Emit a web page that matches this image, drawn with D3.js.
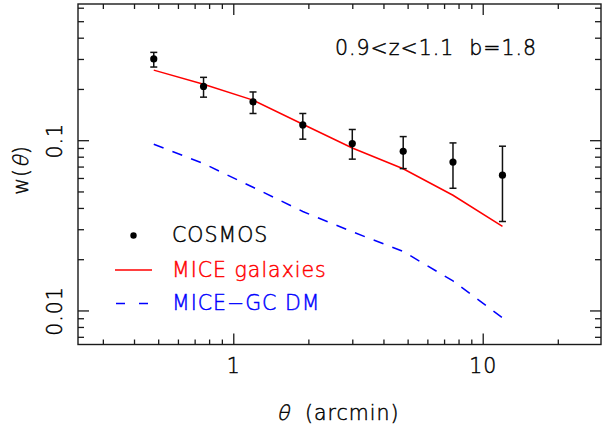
<!DOCTYPE html>
<html>
<head>
<meta charset="utf-8">
<script src="https://cdn.jsdelivr.net/npm/d3@7"></script>
<style>
  html, body { margin: 0; padding: 0; background: #fff; }
  svg { display: block; }
  text {
    font-family: "DejaVu Sans", "Liberation Sans", sans-serif;
    font-weight: 200; letter-spacing: 1px; white-space: pre;
    stroke: currentColor; stroke-width: 0.45px;
  }
</style>
</head>
<body>
<svg id="chart" width="602" height="428"></svg>
<script>
// Angular correlation w(theta), 0.9<z<1.1
const theta = [0.48, 0.76, 1.2, 1.9, 3.0, 4.8, 7.6, 12.0];

// COSMOS measurements with 1-sigma bounds
const cosmosW    = [0.300, 0.207, 0.168, 0.123, 0.0956, 0.0860, 0.0744, 0.0623];
const cosmosLow  = [0.269, 0.179, 0.1435, 0.1014, 0.0774, 0.0681, 0.0522, 0.0333];
const cosmosHigh = [0.328, 0.234, 0.192, 0.1435, 0.1156, 0.105, 0.0964, 0.0922];

// MICE galaxy mock (bias b = 1.8)
const miceGal = [0.258, 0.213, 0.172, 0.124, 0.090, 0.068, 0.0475, 0.0312];

// MICE-GC dark matter
const miceDM = [0.0947, 0.0729, 0.0529, 0.0381, 0.0290, 0.0222, 0.0149, 0.00906];

// Axis ticks
const xMajor = [1, 10];
const xMinor = [0.3, 0.4, 0.5, 0.6, 0.7, 0.8, 0.9, 2, 3, 4, 5, 6, 7, 8, 9, 20];
const yMajor = [0.01, 0.1];
const yMinor = [0.007, 0.008, 0.009, 0.02, 0.03, 0.04, 0.05, 0.06, 0.07, 0.08, 0.09, 0.2, 0.3, 0.4, 0.5, 0.6];

const legendItems = [
  { label: "COSMOS", color: "#000", kind: "dot" },
  { label: "MICE galaxies", color: "#ff0000", kind: "solid" },
  { label: "MICE\u2212GC DM", color: "#0000ff", kind: "dash" }
];

const svg = d3.select("#chart");
const L = 78, R = 601, T = 4, B = 344.5;

const x = d3.scaleLog().domain([0.2385, 29.8]).range([L, R]);
const y = d3.scaleLog().domain([Math.pow(10, -2.2), Math.pow(10, -0.2)]).range([B, T]);

const axisColor = "#1a1a1a";
const fontSize = 20.5;

// Axes: major and minor ticks pointing inwards on all four sides
function styleAxis(g) {
  g.select(".domain").remove();
  g.selectAll(".tick line").attr("stroke", axisColor).attr("stroke-width", 1.3);
  g.selectAll(".tick text").attr("fill", "#000").style("color", "#000")
    .style("font-size", fontSize + "px")
    .style("font-family", "DejaVu Sans, sans-serif")
    .style("font-weight", 200);
}

svg.append("g").attr("transform", `translate(0,${B})`)
  .call(d3.axisBottom(x).tickValues(xMinor).tickSize(-5).tickSizeOuter(0).tickFormat(""))
  .call(styleAxis);
svg.append("g").attr("transform", `translate(0,${B})`)
  .call(d3.axisBottom(x).tickValues(xMajor).tickSize(-11).tickSizeOuter(0).tickPadding(14).tickFormat(d3.format("~g")))
  .call(styleAxis);
svg.append("g").attr("transform", `translate(0,${T})`)
  .call(d3.axisTop(x).tickValues(xMinor).tickSize(-5).tickSizeOuter(0).tickFormat(""))
  .call(styleAxis);
svg.append("g").attr("transform", `translate(0,${T})`)
  .call(d3.axisTop(x).tickValues(xMajor).tickSize(-11).tickSizeOuter(0).tickFormat(""))
  .call(styleAxis);

svg.append("g").attr("transform", `translate(${L},0)`)
  .call(d3.axisLeft(y).tickValues(yMinor).tickSize(-6).tickSizeOuter(0).tickFormat(""))
  .call(styleAxis);
const yAxisMajor = svg.append("g").attr("transform", `translate(${L},0)`)
  .call(d3.axisLeft(y).tickValues(yMajor).tickSize(-11).tickSizeOuter(0).tickFormat(d3.format("~g")))
  .call(styleAxis);
yAxisMajor.selectAll(".tick text")
  .attr("transform", "rotate(-90)")
  .attr("x", 0).attr("y", -16).attr("dy", 0)
  .attr("text-anchor", "middle");
svg.append("g").attr("transform", `translate(${R},0)`)
  .call(d3.axisRight(y).tickValues(yMinor).tickSize(-6).tickSizeOuter(0).tickFormat(""))
  .call(styleAxis);
svg.append("g").attr("transform", `translate(${R},0)`)
  .call(d3.axisRight(y).tickValues(yMajor).tickSize(-11).tickSizeOuter(0).tickFormat(""))
  .call(styleAxis);

// Frame
svg.append("rect")
  .attr("x", L).attr("y", T).attr("width", R - L).attr("height", B - T)
  .attr("fill", "none").attr("stroke", axisColor).attr("stroke-width", 1.4);

// Title made of pieces; slanted pieces get a skew so the light face is kept
function titleRun(g, parts) {
  const nodes = parts.map(p => {
    const t = g.append("text").style("font-size", fontSize + "px").style("color", "#000").text(p.text);
    return { t, p, w: t.node().getComputedTextLength() };
  });
  const total = d3.sum(nodes, n => n.w);
  let cx = -total / 2;
  nodes.forEach(n => {
    if (n.p.slant) {
      n.t.attr("transform", `translate(${cx},0) skewX(-14)`);
    } else {
      n.t.attr("x", cx);
    }
    cx += n.w;
  });
}

titleRun(svg.append("g").attr("transform", "translate(338,420)"), [
  { text: "\u03b8", slant: true },
  { text: "  (arcmin)" }
]);
titleRun(svg.append("g").attr("transform", "translate(28,170) rotate(-90)"), [
  { text: "w(" },
  { text: "\u03b8", slant: true },
  { text: ")" }
]);

// Redshift / bias annotation
svg.append("text")
  .attr("x", 335).attr("y", 55)
  .style("font-size", fontSize + "px").style("color", "#000")
  .text("0.9<z<1.1  b=1.8");

// Model curves
const line = d3.line().x(d => x(d[0])).y(d => y(d[1]));

svg.append("path")
  .datum(theta.map((t, i) => [t, miceDM[i]]))
  .attr("d", line)
  .attr("fill", "none").attr("stroke", "#0000ff").attr("stroke-width", 1.5)
  .attr("stroke-dasharray", "10.5,9.5");

svg.append("path")
  .datum(theta.map((t, i) => [t, miceGal[i]]))
  .attr("d", line)
  .attr("fill", "none").attr("stroke", "#ff0000").attr("stroke-width", 1.5);

// COSMOS points with error bars
const pts = svg.append("g").selectAll("g").data(theta.map((t, i) => ({
  t, w: cosmosW[i], lo: cosmosLow[i], hi: cosmosHigh[i]
}))).join("g");

pts.append("line")
  .attr("x1", d => x(d.t)).attr("x2", d => x(d.t))
  .attr("y1", d => y(d.lo)).attr("y2", d => y(d.hi))
  .attr("stroke", "#111").attr("stroke-width", 1.5);
pts.append("line")
  .attr("x1", d => x(d.t) - 3.5).attr("x2", d => x(d.t) + 3.5)
  .attr("y1", d => y(d.lo)).attr("y2", d => y(d.lo))
  .attr("stroke", "#111").attr("stroke-width", 1.5);
pts.append("line")
  .attr("x1", d => x(d.t) - 3.5).attr("x2", d => x(d.t) + 3.5)
  .attr("y1", d => y(d.hi)).attr("y2", d => y(d.hi))
  .attr("stroke", "#111").attr("stroke-width", 1.5);
pts.append("circle")
  .attr("cx", d => x(d.t)).attr("cy", d => y(d.w))
  .attr("r", 3.6).attr("fill", "#000");

// Legend
const legY = [235.5, 270, 303.5];
const leg = svg.append("g").selectAll("g").data(legendItems).join("g")
  .attr("transform", (d, i) => `translate(0,${legY[i]})`);

leg.filter(d => d.kind === "dot").append("circle")
  .attr("cx", 133.5).attr("cy", 0).attr("r", 3.2).attr("fill", d => d.color);
leg.filter(d => d.kind === "solid").append("line")
  .attr("x1", 115).attr("x2", 152).attr("y1", 0).attr("y2", 0)
  .attr("stroke", d => d.color).attr("stroke-width", 1.5);
leg.filter(d => d.kind === "dash").append("line")
  .attr("x1", 116).attr("x2", 149).attr("y1", 0).attr("y2", 0)
  .attr("stroke", d => d.color).attr("stroke-width", 1.5)
  .attr("stroke-dasharray", "9,14");
leg.append("text")
  .attr("x", 172).attr("y", 6.5)
  .attr("fill", d => d.color)
  .style("color", d => d.color)
  .style("font-size", fontSize + "px")
  .text(d => d.label);
</script>
</body>
</html>
